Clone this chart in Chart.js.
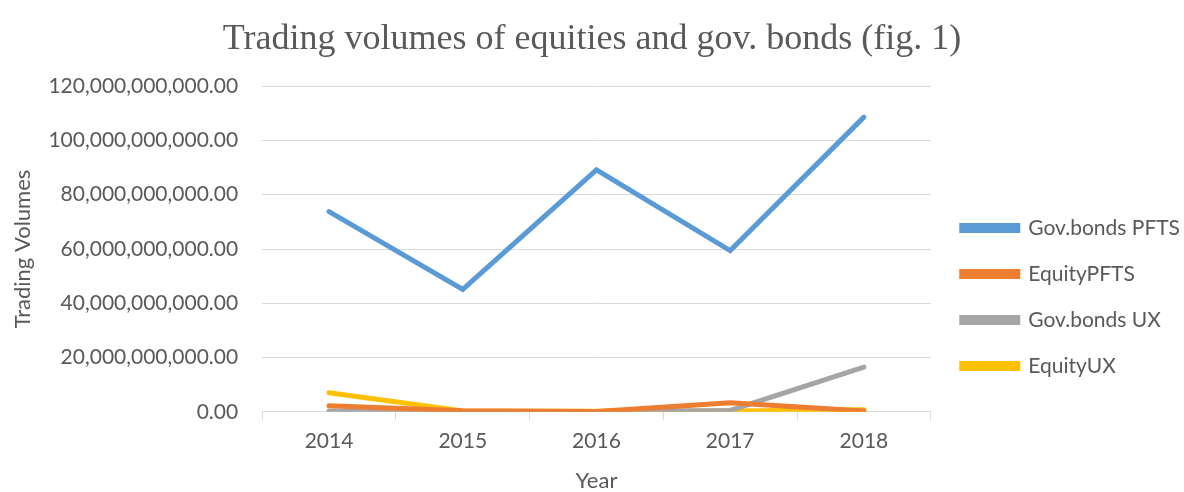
<!DOCTYPE html>
<html>
<head>
<meta charset="utf-8">
<script src="https://cdn.jsdelivr.net/npm/chart.js@4"></script>
<style>
  body { margin: 0; background: #fff; }
  #wrap { width: 1184px; height: 492px; }
</style>
</head>
<body>
<div id="wrap"><canvas id="myChart"></canvas></div>
<script>
const years = ["2014", "2015", "2016", "2017", "2018"];
const govBondsPFTS = [73.8e9, 45.1e9, 89.2e9, 59.4e9, 108.6e9];
const equityPFTS = [2.2e9, 0.4e9, 0.1e9, 3.3e9, 0.3e9];
const govBondsUX = [0.3e9, 0.1e9, 0.1e9, 0.5e9, 16.5e9];
const equityUX = [7.0e9, 0.3e9, 0.2e9, 0.3e9, 0.8e9];
const yTicks = [0, 20e9, 40e9, 60e9, 80e9, 100e9, 120e9];

const grey = '#595959';
const gridColor = '#d9d9d9';
const sans = 'Lato';

function line(label, data, color) {
    return {
        label: label,
        data: data,
        borderColor: color,
        backgroundColor: color,
        borderWidth: 5,
        pointRadius: 0,
        tension: 0,
        borderCapStyle: 'round'
    };
}

// push the legend down/right a bit, like the Excel original
const legendShift = {
    id: 'legendShift',
    afterLayout(chart) {
        const lg = chart.legend;
        lg.top += 42; lg.bottom += 42;
        lg.left += 6; lg.right += 6;
    }
};

var ctx = document.getElementById('myChart').getContext('2d');
var myChart = new Chart(ctx, {
    type: 'line',
    data: {
        labels: years,
        datasets: [
            line('Gov.bonds PFTS', govBondsPFTS, '#5b9bd5'),
            line('EquityPFTS', equityPFTS, '#ed7d31'),
            line('Gov.bonds UX', govBondsUX, '#a5a5a5'),
            line('EquityUX', equityUX, '#ffc000')
        ]
    },
    plugins: [legendShift],
    options: {
        responsive: true,
        maintainAspectRatio: false,
        animation: false,
        layout: { padding: { left: 0, right: 0, top: 18, bottom: 0 } },
        plugins: {
            title: {
                display: true,
                text: 'Trading volumes of equities and gov. bonds (fig. 1)',
                color: grey,
                font: { family: 'Liberation Serif', size: 36, weight: 'normal' },
                padding: { top: 0, bottom: 25 }
            },
            legend: {
                position: 'right',
                labels: {
                    color: grey,
                    font: { family: sans, size: 21 },
                    boxWidth: 56,
                    boxHeight: 5,
                    padding: 25
                }
            },
            tooltip: { enabled: false }
        },
        scales: {
            x: {
                offset: true,
                border: { color: gridColor },
                grid: { offset: true, drawOnChartArea: false, drawTicks: true, tickLength: 8, color: gridColor },
                ticks: { color: grey, font: { family: sans, size: 21 }, padding: 9 },
                title: { display: true, text: 'Year', color: grey, font: { family: sans, size: 22, lineHeight: 1 }, padding: { top: 7, bottom: 0 } }
            },
            y: {
                min: 0,
                max: 120e9,
                afterBuildTicks: function (axis) {
                    axis.ticks = yTicks.map(v => ({ value: v }));
                },
                border: { display: false },
                grid: { color: gridColor, drawTicks: false },
                ticks: {
                    color: grey,
                    font: { family: sans, size: 21 },
                    padding: 24,
                    callback: function (v) {
                        return v.toLocaleString('en-US', { minimumFractionDigits: 2, maximumFractionDigits: 2 });
                    }
                },
                title: { display: true, text: 'Trading Volumes', color: grey, font: { family: sans, size: 22 }, padding: { top: 10, bottom: -12 } }
            }
        }
    }
});
</script>
</body>
</html>
